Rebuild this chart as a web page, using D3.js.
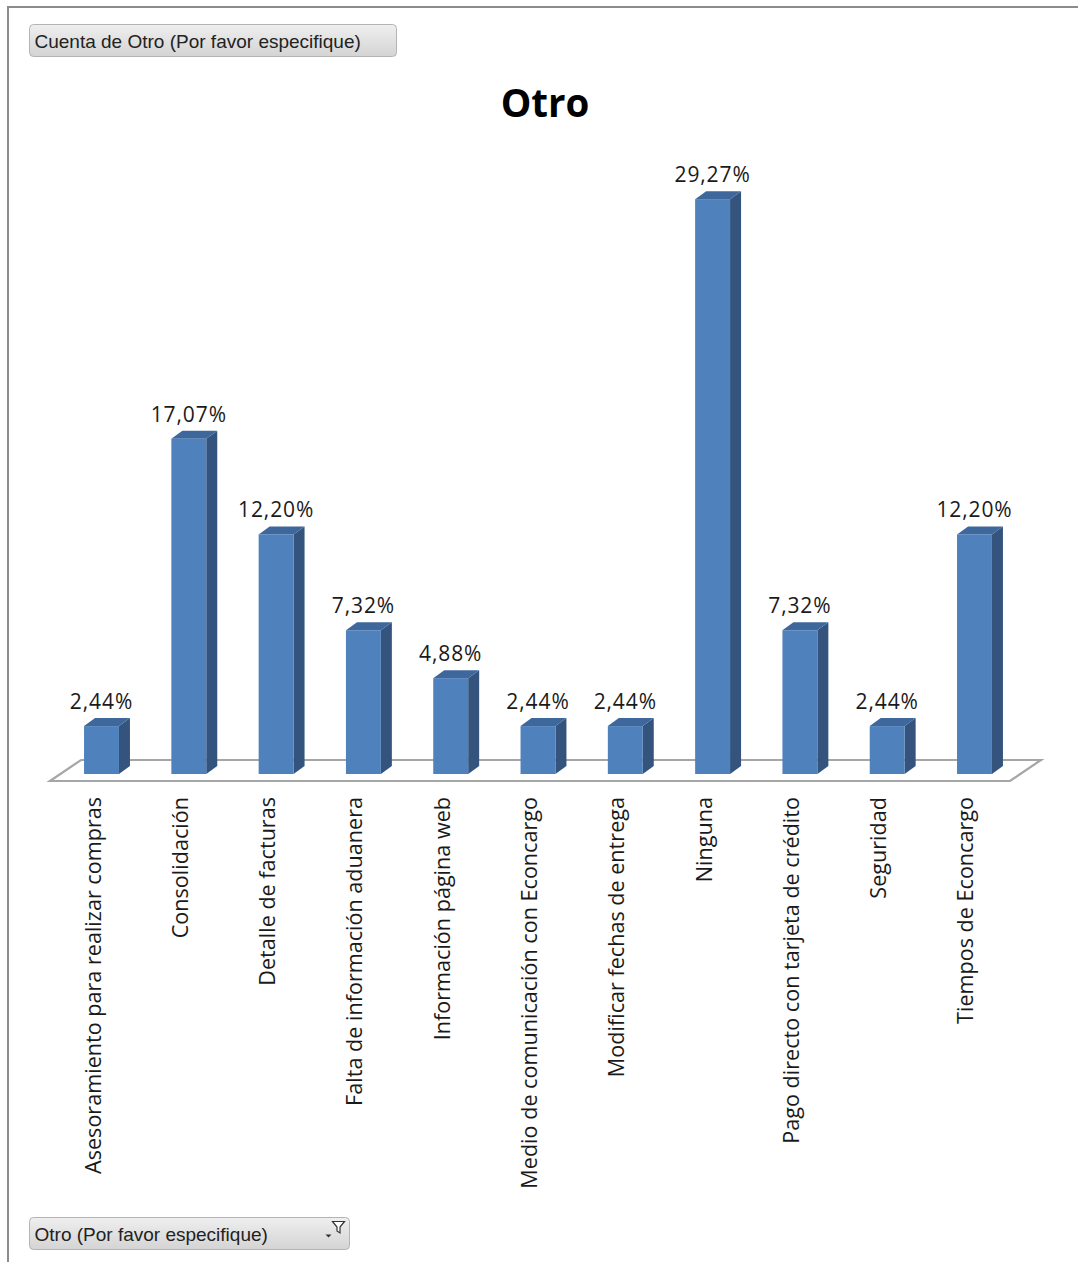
<!DOCTYPE html>
<html>
<head>
<meta charset="utf-8">
<script src="https://cdn.jsdelivr.net/npm/d3@7"></script>
<style>
  html, body { margin: 0; padding: 0; background: #ffffff; }
  svg { display: block; }
</style>
</head>
<body>
<svg id="chart" width="1078" height="1262"></svg>
<script>
// Categories and percentage shares of "Otro" answers
const categories = [
  "Asesoramiento para realizar compras",
  "Consolidación",
  "Detalle de facturas",
  "Falta de información aduanera",
  "Información página web",
  "Medio de comunicación con Econcargo",
  "Modificar fechas de entrega",
  "Ninguna",
  "Pago directo con tarjeta de crédito",
  "Seguridad",
  "Tiempos de Econcargo"
];
const values = [2.44, 17.07, 12.20, 7.32, 4.88, 2.44, 2.44, 29.27, 7.32, 2.44, 12.20];
const valueLabels = ["2,44%", "17,07%", "12,20%", "7,32%", "4,88%", "2,44%", "2,44%", "29,27%", "7,32%", "2,44%", "12,20%"];

const title = "Otro";
const topButtonText = "Cuenta de Otro (Por favor especifique)";
const bottomButtonText = "Otro (Por favor especifique)";

const svg = d3.select("#chart");

// Frame of the pivot-chart area
svg.append("path")
  .attr("d", "M8,1262 V7 H1078")
  .attr("fill", "none")
  .attr("stroke", "#8c8c8c")
  .attr("stroke-width", 2);

// Gradient used by the field buttons
const defs = svg.append("defs");
const grad = defs.append("linearGradient")
  .attr("id", "btnGrad").attr("x1", 0).attr("y1", 0).attr("x2", 0).attr("y2", 1);
grad.append("stop").attr("offset", "0%").attr("stop-color", "#efefef");
grad.append("stop").attr("offset", "100%").attr("stop-color", "#d4d4d4");

function fieldButton(x, y, w, h, label) {
  const g = svg.append("g").attr("transform", `translate(${x},${y})`);
  g.append("rect")
    .attr("width", w).attr("height", h).attr("rx", 4).attr("ry", 4)
    .attr("fill", "url(#btnGrad)")
    .attr("stroke", "#b4b4b4").attr("stroke-width", 1);
  g.append("text")
    .attr("x", 5).attr("y", h / 2 + 7)
    .attr("font-family", "'Liberation Sans', Arial, sans-serif")
    .attr("font-size", 19)
    .attr("fill", "#222")
    .text(label);
  return g;
}

fieldButton(29.5, 24.5, 367, 32, topButtonText);
const bottomBtn = fieldButton(29.5, 1217.5, 320, 32, bottomButtonText);
// Filter glyph on the axis field button
bottomBtn.append("path")
  .attr("d", "M303,4 h12 l-4.5,5.5 v6 l-3,-2 v-4 z")
  .attr("fill", "#fff").attr("stroke", "#333").attr("stroke-width", 1.2);
bottomBtn.append("path")
  .attr("d", "M296,17 h6 l-3,3 z")
  .attr("fill", "#333");

// Title
svg.append("text")
  .attr("x", 545).attr("y", 117)
  .attr("text-anchor", "middle")
  .attr("font-family", "'Open Sans', Arial, sans-serif")
  .attr("font-weight", "bold")
  .attr("font-size", 38.5)
  .attr("fill", "#000")
  .text(title);

// Scales
const baseY = 774;
const x = d3.scaleBand()
  .domain(categories)
  .range([50, 1026])
  .paddingInner(0.6)
  .paddingOuter(0.39);
const y = d3.scaleLinear().domain([0, 30]).range([baseY, baseY - 30 * 19.64]);

// 3-D depth offsets
const barDx = 11, barDy = -8;
const floorDx = 31, floorDy = -21;
const floorFrontY = 781;
const floorLeft = x.range()[0];
const floorRight = x.range()[1] - 16;

// Floor of the 3-D plot
svg.append("path")
  .attr("d", `M${floorLeft},${floorFrontY} L${floorRight},${floorFrontY} L${floorRight + floorDx},${floorFrontY + floorDy} L${floorLeft + floorDx},${floorFrontY + floorDy} Z`)
  .attr("fill", "#ffffff")
  .attr("stroke", "#a6a6a6")
  .attr("stroke-width", 2.2)
  .attr("stroke-linejoin", "miter");

const data = categories.map((c, i) => ({ c, v: values[i], label: valueLabels[i] }));
const bw = x.bandwidth();

const bars = svg.append("g").selectAll("g.bar").data(data).join("g").attr("class", "bar");

// Side face
bars.append("path")
  .attr("d", d => {
    const x0 = x(d.c) + bw, yt = y(d.v);
    return `M${x0},${yt} L${x0 + barDx},${yt + barDy} L${x0 + barDx},${baseY + barDy} L${x0},${baseY} Z`;
  })
  .attr("fill", "#34547d");

// Top face
bars.append("path")
  .attr("d", d => {
    const x0 = x(d.c), yt = y(d.v);
    return `M${x0},${yt} L${x0 + barDx},${yt + barDy} L${x0 + bw + barDx},${yt + barDy} L${x0 + bw},${yt} Z`;
  })
  .attr("fill", "#3e679c");

// Front face
bars.append("rect")
  .attr("x", d => x(d.c))
  .attr("y", d => y(d.v))
  .attr("width", bw)
  .attr("height", d => baseY - y(d.v))
  .attr("fill", "#4f81bd");

// Value labels
bars.append("text")
  .attr("x", d => x(d.c) + bw / 2)
  .attr("y", d => y(d.v) + barDy - 9)
  .attr("text-anchor", "middle")
  .attr("font-family", "'Open Sans', Arial, sans-serif")
  .attr("font-size", 21)
  .attr("letter-spacing", 0.9)
  .attr("fill", "#1a1a1a")
  .text(d => d.label);

// Category labels, rotated
svg.append("g").selectAll("text").data(categories).join("text")
  .attr("transform", c => `translate(${x(c) + bw / 2 - 1},797) rotate(-90)`)
  .attr("text-anchor", "end")
  .attr("font-family", "'Open Sans', Arial, sans-serif")
  .attr("font-size", 21.6)
  .attr("fill", "#1a1a1a")
  .text(c => c);
</script>
</body>
</html>
